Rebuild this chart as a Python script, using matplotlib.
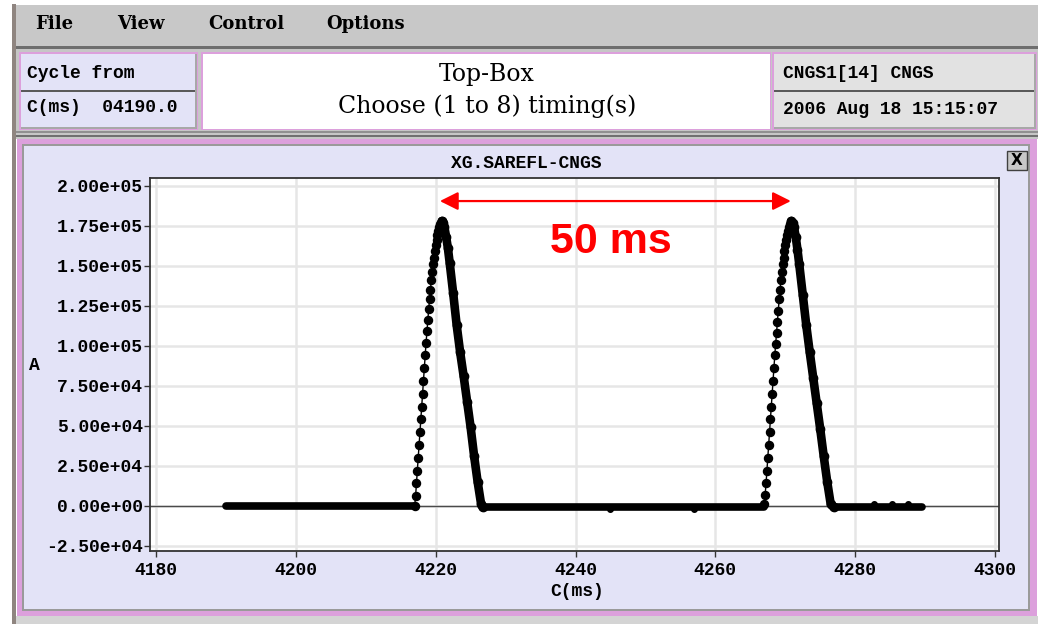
import matplotlib
matplotlib.use('Agg')
import matplotlib.pyplot as plt
from matplotlib.patches import Rectangle

# ---- data (time in ms, current in kA) ----
rise1_t = [4217.000, 4217.125, 4217.250, 4217.375, 4217.500, 4217.625, 4217.750, 4217.875,
           4218.000, 4218.125, 4218.250, 4218.375, 4218.500, 4218.625, 4218.750, 4218.875,
           4219.000, 4219.125, 4219.250, 4219.375, 4219.500, 4219.625, 4219.750, 4219.875,
           4220.000, 4220.125, 4220.250, 4220.375, 4220.500, 4220.625, 4220.750, 4220.875]
rise1_a = [0, 6, 14, 22, 30, 38, 46, 54, 62, 70, 78, 86, 94, 102, 109, 116,
           123, 129, 135, 141, 146, 151, 155, 159, 163, 166, 169, 172, 174, 176, 177, 178]
fall1_t = [4220.875, 4221.05, 4221.25, 4221.5, 4221.75, 4222.0, 4222.5, 4223.0,
           4223.5, 4224.0, 4224.5, 4225.0, 4225.5, 4226.0, 4226.5, 4226.7]
fall1_a = [178, 177, 174, 168, 161, 152, 133, 113, 96, 81, 65, 49, 31, 15, 1, -1]

rise2_t = [4267.000, 4267.125, 4267.250, 4267.375, 4267.500, 4267.625, 4267.750, 4267.875,
           4268.000, 4268.125, 4268.250, 4268.375, 4268.500, 4268.625, 4268.750, 4268.875,
           4269.000, 4269.125, 4269.250, 4269.375, 4269.500, 4269.625, 4269.750, 4269.875,
           4270.000, 4270.125, 4270.250, 4270.375, 4270.500, 4270.625, 4270.750, 4270.875]
rise2_a = [1, 7, 14, 22, 30, 38, 46, 54, 62, 70, 78, 86, 94, 101, 108, 115,
           122, 129, 135, 141, 146, 151, 155, 159, 163, 166, 169, 172, 174, 176, 177, 178]
fall2_t = [4270.875, 4271.05, 4271.25, 4271.5, 4271.75, 4272.0, 4272.5, 4273.0,
           4273.5, 4274.0, 4274.5, 4275.0, 4275.5, 4276.0, 4276.5, 4276.9]
fall2_a = [178, 177, 174, 168, 160, 151, 132, 113, 96, 80, 64, 48, 31, 15, 1, -1]

base_start = [4190.0, 4226.7, 4276.9]
base_end = [4217.0, 4267.0, 4289.5]
base_level = [0, -0.5, -1]
blip_t = [4245.0, 4256.9, 4282.7, 4285.3, 4287.5]
blip_a = [-2, -2, 1, 1, 1]

yticks = [-25000, 0, 25000, 50000, 75000, 100000, 125000, 150000, 175000, 200000]
xticks = [4180, 4200, 4220, 4240, 4260, 4280, 4300]

W, H = 1038, 624
MONO = 'Liberation Mono'
LAV = '#e3e3f7'
PINK = '#dca0dc'
GRAY = '#c6c6c6'

fig = plt.figure(figsize=(W / 100, H / 100), dpi=100)
fig.patch.set_facecolor('white')

# background "window" drawn in pixel coordinates
bg = fig.add_axes([0, 0, 1, 1])
bg.set_xlim(0, W)
bg.set_ylim(H, 0)
bg.axis('off')


def box(x0, y0, x1, y1, color, z=1, **kw):
    bg.add_patch(Rectangle((x0, y0), x1 - x0, y1 - y0, facecolor=color,
                           edgecolor=kw.pop('ec', 'none'), zorder=z, **kw))


box(12, 4, 16, H, '#8f8580')
box(16, 5, W, 47, '#c8c8c8')
box(16, 46, W, 49, '#6e6e6e')
box(16, 49, W, 139, GRAY)

# left info box
box(19, 52, 198, 130, PINK)
box(20.5, 53.5, 196.5, 128.5, LAV)
box(20.5, 89.5, 196.5, 91.5, '#5a5a5a', z=2)
box(194.5, 53.5, 196.5, 128.5, '#a8a8a8', z=2)
box(20.5, 126.5, 196.5, 128.5, '#a8a8a8', z=2)
# middle box
box(201, 52, 771, 130, PINK)
box(202.5, 53.5, 769.5, 128.5, 'white')
# right box
box(772, 52, 1037, 130, PINK)
box(773.5, 53.5, 1035.5, 128.5, '#e2e2e2')
box(773.5, 89.5, 1035.5, 91.5, '#5a5a5a', z=2)
box(1033.5, 53.5, 1035.5, 128.5, '#a8a8a8', z=2)
box(773.5, 126.5, 1035.5, 128.5, '#a8a8a8', z=2)
# separator band
box(16, 131, W, 132.5, '#909090', z=2)
box(16, 135, W, 137, '#707070', z=2)

# plot panel
box(17, 139, 1037, 616, PINK)
box(22, 144, 1030, 611, '#9a9a9a')
box(24, 146, 1028, 609, LAV)
box(16, 616, W, H, '#d4d4d4')
box(1007, 151, 1027, 170, '#c8c8c8', z=2, ec='#404040', lw=1)
bg.text(1017, 160.5, 'X', ha='center', va='center', fontsize=11, fontweight='bold',
        family='DejaVu Sans', zorder=3)

for label, xc in zip(['File', 'View', 'Control', 'Options'], [54, 141, 246, 366]):
    bg.text(xc, 24, label, ha='center', va='center', fontsize=13, fontweight='bold',
            family='DejaVu Serif', zorder=3)

bg.text(27, 74, 'Cycle from', ha='left', va='center', fontsize=13, fontweight='bold', family=MONO, zorder=3)
bg.text(27, 108, 'C(ms)  04190.0', ha='left', va='center', fontsize=13, fontweight='bold', family=MONO, zorder=3)
bg.text(487, 75, 'Top-Box', ha='center', va='center', fontsize=17, family='DejaVu Serif', zorder=3)
bg.text(487, 106, 'Choose (1 to 8) timing(s)', ha='center', va='center', fontsize=17,
        family='DejaVu Serif', zorder=3)
bg.text(783, 74, 'CNGS1[14] CNGS', ha='left', va='center', fontsize=13, fontweight='bold', family=MONO, zorder=3)
bg.text(783, 110, '2006 Aug 18 15:15:07', ha='left', va='center', fontsize=13, fontweight='bold',
        family=MONO, zorder=3)

bg.text(526, 164, 'XG.SAREFL-CNGS', ha='center', va='center', fontsize=13, fontweight='bold', family=MONO, zorder=3)
bg.text(34, 366, 'A', ha='center', va='center', fontsize=13, fontweight='bold', family=MONO, zorder=3)
bg.text(577, 592, 'C(ms)', ha='center', va='center', fontsize=13, fontweight='bold', family=MONO, zorder=3)

# ---- the plot itself ----
ax = fig.add_axes([150 / W, 1 - 551 / H, 849 / W, (551 - 177.7) / H])
ax.set_facecolor('white')
ax.set_xlim(4179.14, 4300.57)
ax.set_ylim(-28250, 205100)
ax.set_xticks(xticks)
ax.set_yticks(yticks)
ax.set_yticklabels(['%.2e' % v for v in yticks])
ax.grid(True, color='#e6e6e6', lw=1.8)
ax.set_axisbelow(True)
for s in ax.spines.values():
    s.set_color('#333333')
    s.set_linewidth(1.3)
ax.tick_params(direction='out', length=4, width=1, color='#333333')
ax.tick_params(axis='y', pad=1)
ax.tick_params(axis='x', pad=4)
for lab in ax.get_xticklabels() + ax.get_yticklabels():
    lab.set_family(MONO)
    lab.set_fontweight('bold')
    lab.set_fontsize(13)

ax.axhline(0, color='#4a4a4a', lw=1, zorder=2)

k = 1000.0
for t0, t1, lvl in zip(base_start, base_end, base_level):
    ax.plot([t0, t1], [lvl * k, lvl * k], color='black', lw=5.5, solid_capstyle='round', zorder=3)
for rt, ra, ft, fa in [(rise1_t, rise1_a, fall1_t, fall1_a), (rise2_t, rise2_a, fall2_t, fall2_a)]:
    ax.plot(rt, [a * k for a in ra], '-o', color='black', lw=1.0, ms=5.8, zorder=4)
    ax.plot(ft, [a * k for a in fa], '-o', color='black', lw=6.2, ms=6, solid_capstyle='round', zorder=4)
ax.plot(blip_t, [a * k for a in blip_a], 'o', color='black', ms=4, zorder=3)

# 50 ms annotation
ax.annotate('', xy=(4220.6, 190500), xytext=(4270.8, 190500),
            arrowprops=dict(arrowstyle='<|-|>,head_length=0.5,head_width=0.25', color='red',
                            lw=1.6, mutation_scale=22, shrinkA=0, shrinkB=0), zorder=5)
ax.text(4245.1, 165000, '50 ms', ha='center', va='center', color='red', fontsize=31,
        fontweight='bold', family='Liberation Sans', zorder=5)

plt.savefig('out.png', dpi=100, facecolor=fig.get_facecolor())
